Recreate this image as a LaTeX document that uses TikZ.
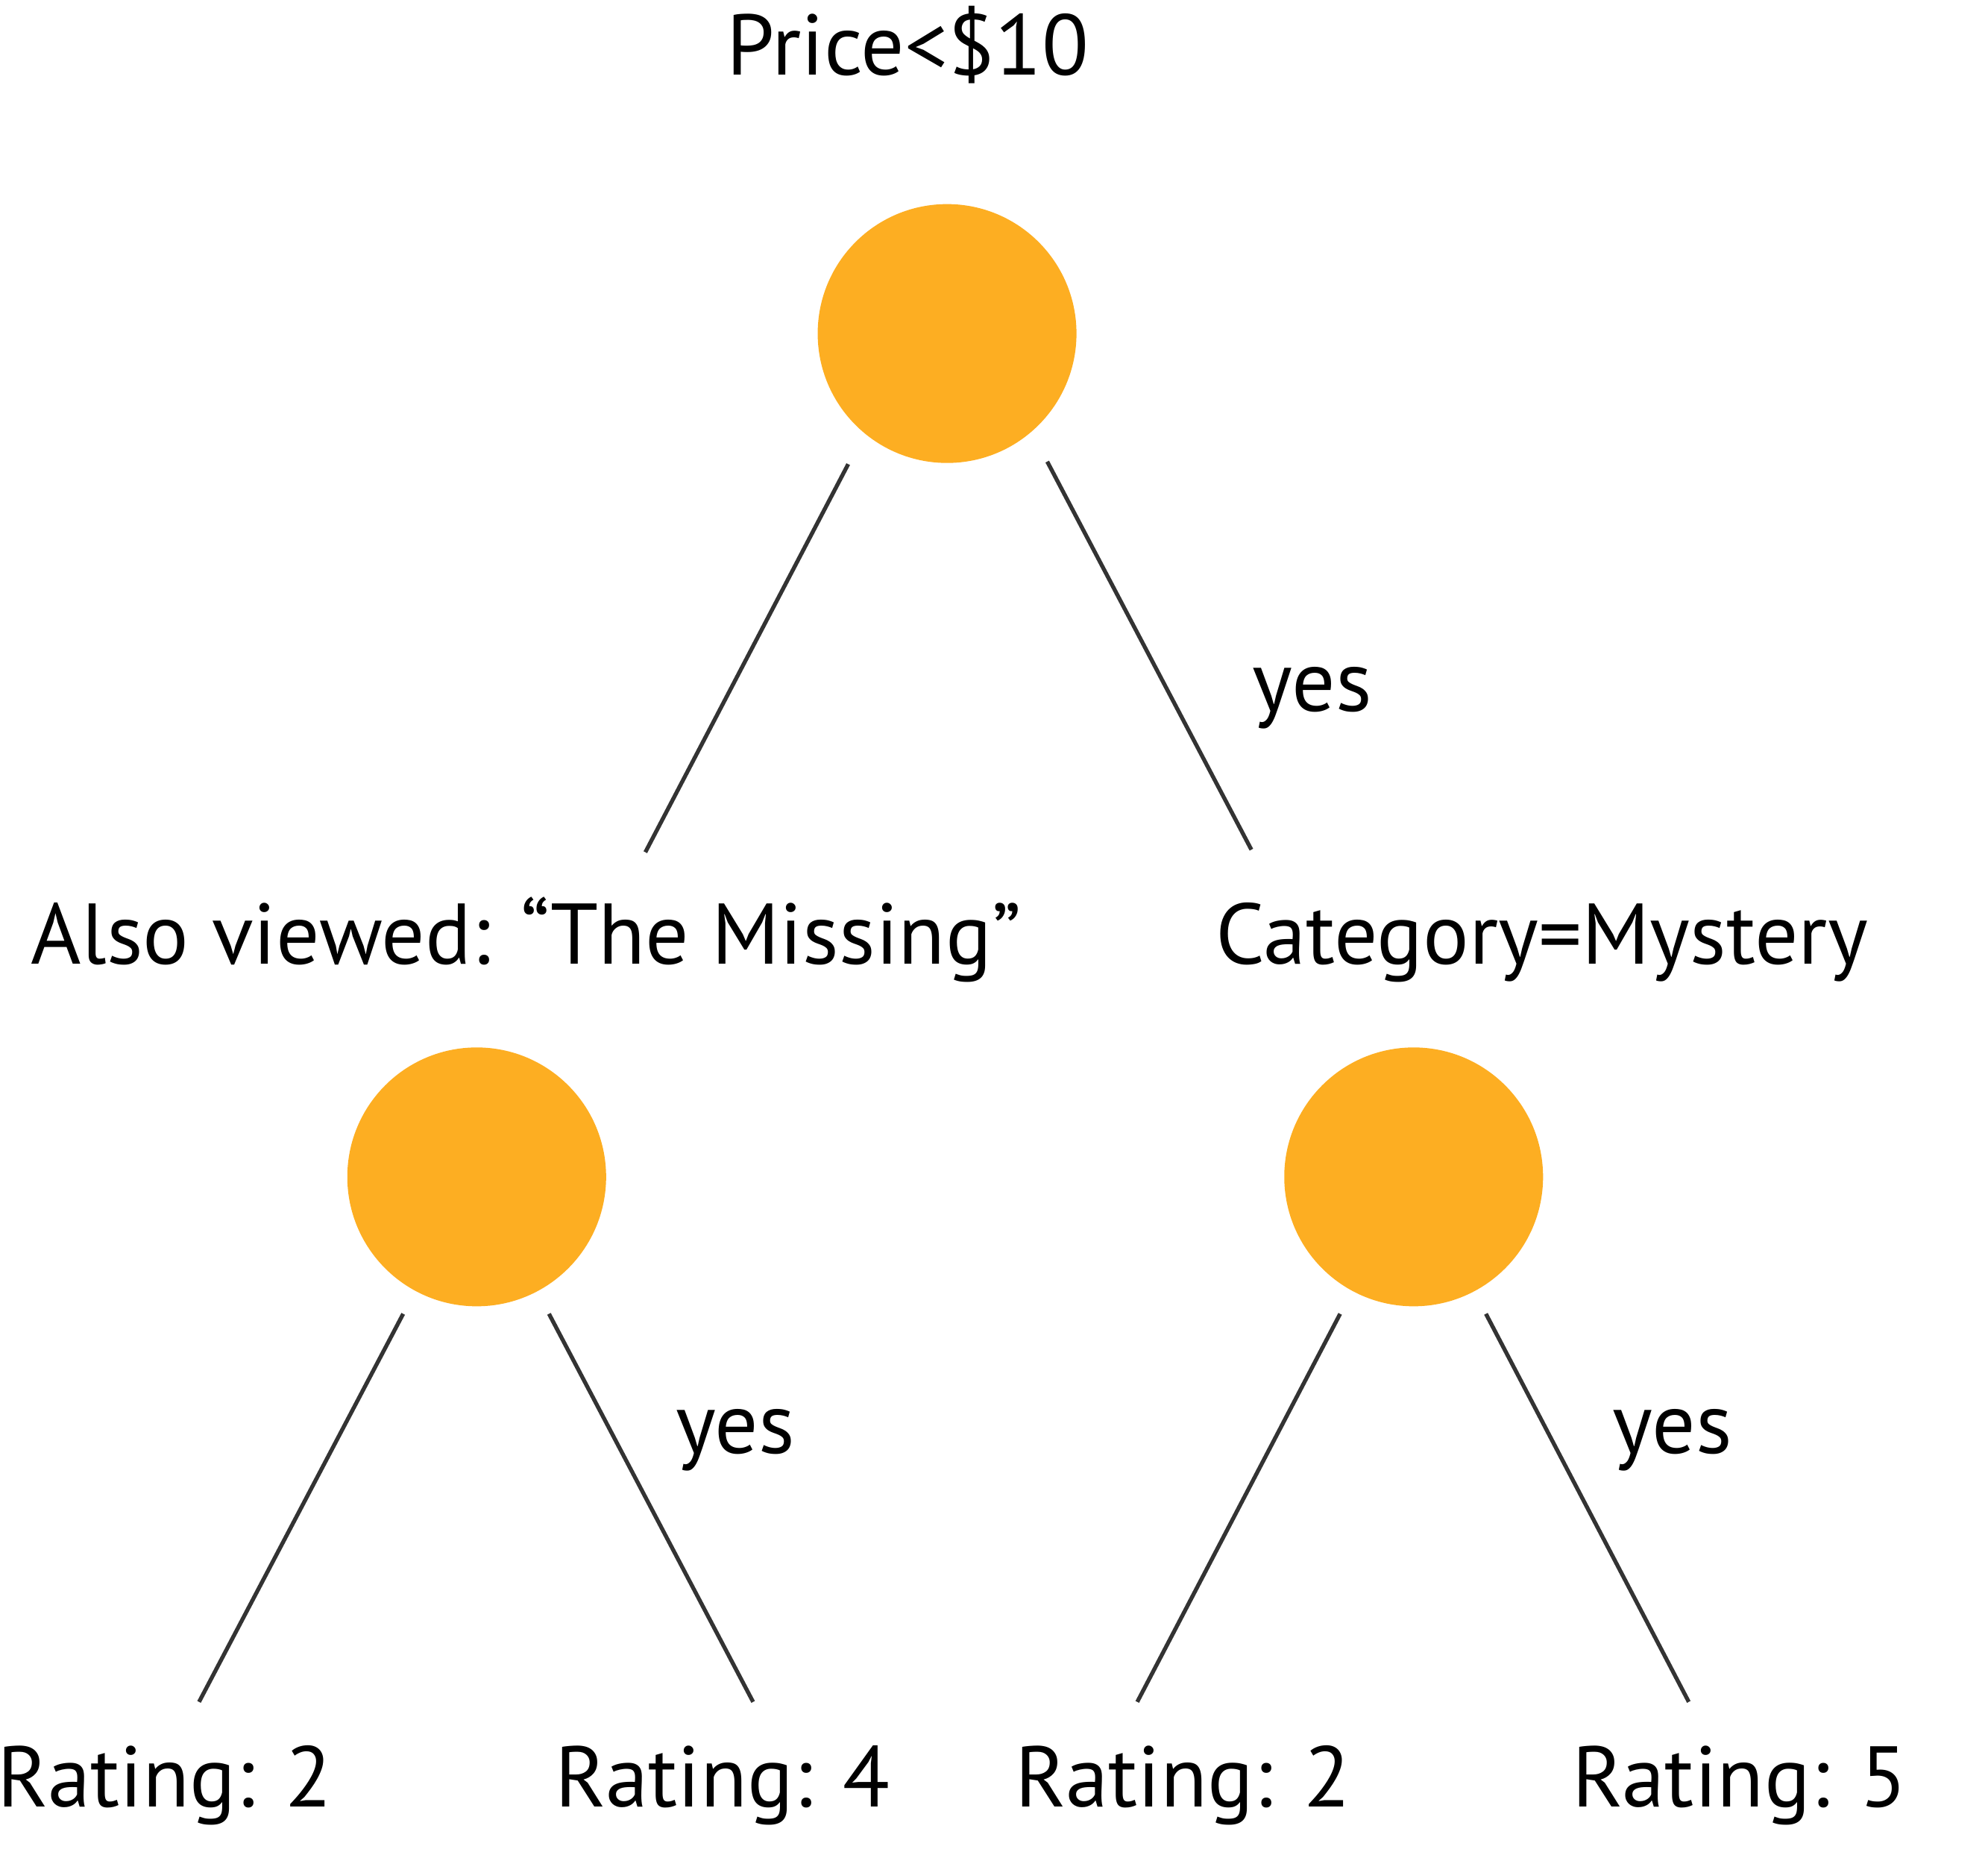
\documentclass[tikz,border=0pt]{standalone}
\usepackage{fontspec}
\setmainfont{PT Sans}
\definecolor{splitfill}{RGB}{253,174,34}
\definecolor{edgegray}{RGB}{51,51,51}

\begin{document}
\begin{tikzpicture}[x=0.01cm, y=-0.01cm,
		split/.style={circle, fill=splitfill, minimum size=2.04cm, inner sep=0pt},
		branch/.style={edgegray, line width=0.9pt},
		lbl/.style={anchor=base, inner sep=0pt, font=\fontsize{19.3}{23}\selectfont}]
		\useasboundingbox (0,0) rectangle (1568,1460);
		% split nodes
		\node[split] (root) at (747,263) {};
		\node[split] (left) at (376,928) {};
		\node[split] (right) at (1115,928) {};
		% texts
		\node[lbl] (qroot) at (716,59) {Price<\$10};
		\node[lbl] (qleft) at (415,760) {Also viewed: “The Missing”};
		\node[lbl] (qright) at (1216,760) {Category=Mystery};
		\node[lbl] (yroot) at (1035,561) {yes};
		\node[lbl] (yleft) at (580,1146) {yes};
		\node[lbl] (yright) at (1319,1146) {yes};
		\node[lbl] (r1) at (130,1425) {Rating: 2};
		\node[lbl] (r2) at (570,1425) {Rating: 4};
		\node[lbl] (r3) at (933,1425) {Rating: 2};
		\node[lbl] (r4) at (1372,1425) {Rating: 5};
		% branch ends
		\coordinate (root-a) at (669,366);
		\coordinate (root-b) at (509,672);
		\coordinate (root-c) at (826,364);
		\coordinate (root-d) at (987,670);
		\coordinate (left-a) at (318,1036);
		\coordinate (left-b) at (157,1342);
		\coordinate (left-c) at (433,1036);
		\coordinate (left-d) at (594,1342);
		\coordinate (right-a) at (1057,1036);
		\coordinate (right-b) at (897,1342);
		\coordinate (right-c) at (1172,1036);
		\coordinate (right-d) at (1332,1342);
		\foreach \n in {root,left,right}{
			\draw[branch] (\n-a) -- (\n-b);
			\draw[branch] (\n-c) -- (\n-d);
		}
	\end{tikzpicture}
\end{document}
